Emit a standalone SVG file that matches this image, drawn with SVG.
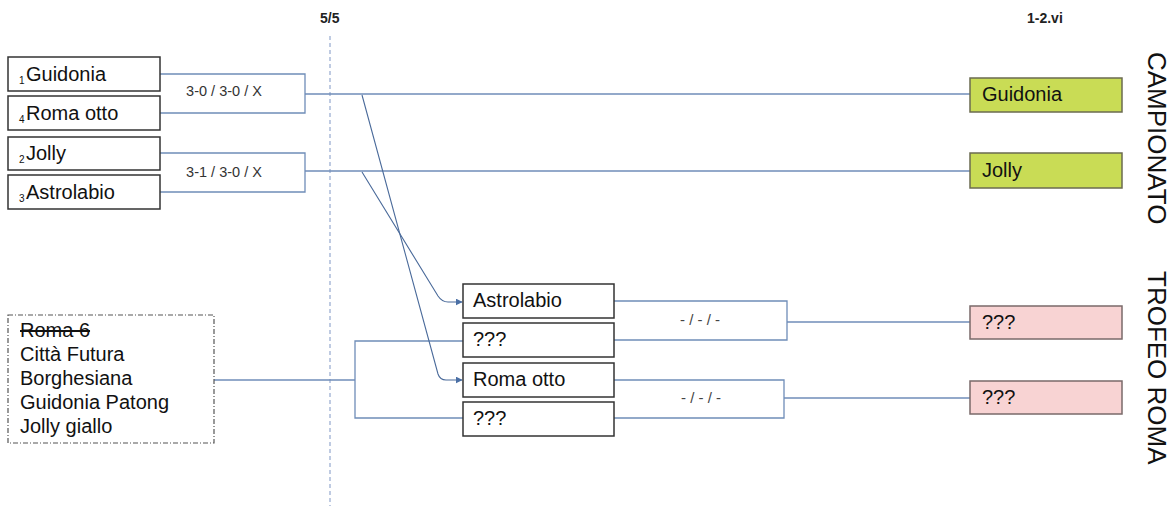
<svg xmlns="http://www.w3.org/2000/svg" width="1172" height="506" viewBox="0 0 1172 506">
<defs>
<marker id="arr" viewBox="0 0 10 10" refX="9" refY="5" markerWidth="7" markerHeight="7" orient="auto" markerUnits="userSpaceOnUse">
<path d="M0,0 L10,5 L0,10 z" fill="#4a6fa5"/>
</marker>
<style>
.box{fill:#fff;stroke:#333;stroke-width:1.5}
.green{fill:#c9dc55;stroke:#6b6b50;stroke-width:1.5}
.pink{fill:#f8d3d3;stroke:#7a6a6a;stroke-width:1.5}
.t{font-family:"Liberation Sans",Arial,sans-serif;font-size:20px;fill:#111}
.sub{font-family:"Liberation Sans",Arial,sans-serif;font-size:10px;fill:#111}
.score{font-family:"Liberation Sans",Arial,sans-serif;font-size:14.5px;fill:#333}
.dash{font-family:"Liberation Sans",Arial,sans-serif;font-size:15px;fill:#444}
.hdr{font-family:"Liberation Sans",Arial,sans-serif;font-size:14px;font-weight:bold;fill:#222}
.side{font-family:"Liberation Sans",Arial,sans-serif;font-size:26px;fill:#111}
.ln{fill:none;stroke:#6f8db8;stroke-width:1.3}
.ar{fill:none;stroke:#4a6a9a;stroke-width:1.1}
</style>
</defs>
<rect width="1172" height="506" fill="#fff"/>
<text class="hdr" x="320" y="23">5/5</text>
<text class="hdr" x="1027" y="23">1-2.vi</text>
<line x1="330" y1="36" x2="330" y2="506" stroke="#9db0d3" stroke-width="1.3" stroke-dasharray="4,3"/>
<g id="connectors">
<path class="ln" d="M160,74 H305 V113 H160"/>
<path class="ln" d="M305,94 H970"/>
<path class="ln" d="M160,153 H305 V192 H160"/>
<path class="ln" d="M305,171 H970"/>
<path class="ln" d="M214,380 H355"/>
<path class="ln" d="M463,341 H355 V418 H463"/>
<path class="ln" d="M614,301 H787 V340 H614"/>
<path class="ln" d="M787,322 H970"/>
<path class="ln" d="M614,380 H784 V418 H614"/>
<path class="ln" d="M784,398 H970"/>
<path class="ar" d="M362,95 L438,374 Q440,380 446,380 L462,380" marker-end="url(#arr)"/>
<path class="ar" d="M362,172 L438,296 Q442,302 448,302 L462,302" marker-end="url(#arr)"/>
<text class="score" x="224" y="96" text-anchor="middle">3-0 / 3-0 / X</text>
<text class="score" x="224" y="177" text-anchor="middle">3-1 / 3-0 / X</text>
<text class="dash" x="700" y="325" text-anchor="middle">- / - / -</text>
<text class="dash" x="701" y="403" text-anchor="middle">- / - / -</text>
</g>
<g id="n-guidonia">
<rect class="box" x="8" y="57" width="152" height="34"/>
<text class="sub" x="19" y="84">1</text><text class="t" x="26" y="81">Guidonia</text>
</g>
<g id="n-romaotto">
<rect class="box" x="8" y="96" width="152" height="34"/>
<text class="sub" x="19" y="123">4</text><text class="t" x="26" y="120">Roma otto</text>
</g>
<g id="n-jolly">
<rect class="box" x="8" y="137" width="152" height="33"/>
<text class="sub" x="19" y="163">2</text><text class="t" x="26" y="160">Jolly</text>
</g>
<g id="n-astrolabio">
<rect class="box" x="8" y="175" width="152" height="34"/>
<text class="sub" x="19" y="202">3</text><text class="t" x="26" y="199">Astrolabio</text>
</g>
<g id="n-pool">
<rect x="8" y="315" width="206" height="128" fill="#fff" stroke="#555" stroke-width="1.2" stroke-dasharray="5,2,1,2"/>
<text class="t" x="20" y="337" text-decoration="line-through">Roma 6</text>
<text class="t" x="20" y="361">Città Futura</text>
<text class="t" x="20" y="385">Borghesiana</text>
<text class="t" x="20" y="409">Guidonia Patong</text>
<text class="t" x="20" y="433">Jolly giallo</text>
</g>
<g id="n-sf-astrolabio">
<rect class="box" x="463" y="284" width="151" height="34"/>
<text class="t" x="473" y="307">Astrolabio</text>
</g>
<g id="n-sf-q1">
<rect class="box" x="463" y="323" width="151" height="34"/>
<text class="t" x="473" y="346">???</text>
</g>
<g id="n-sf-romaotto">
<rect class="box" x="463" y="363" width="151" height="34"/>
<text class="t" x="473" y="386">Roma otto</text>
</g>
<g id="n-sf-q2">
<rect class="box" x="463" y="402" width="151" height="34"/>
<text class="t" x="473" y="425">???</text>
</g>
<g id="n-f-guidonia">
<rect class="green" x="970" y="78" width="152" height="34"/>
<text class="t" x="982" y="101">Guidonia</text>
</g>
<g id="n-f-jolly">
<rect class="green" x="970" y="153" width="152" height="35"/>
<text class="t" x="982" y="177">Jolly</text>
</g>
<g id="n-f-q1">
<rect class="pink" x="970" y="306" width="152" height="33"/>
<text class="t" x="982" y="329">???</text>
</g>
<g id="n-f-q2">
<rect class="pink" x="970" y="381" width="152" height="33"/>
<text class="t" x="982" y="404">???</text>
</g>
<text class="side" transform="translate(1148,52) rotate(90)">CAMPIONATO</text>
<text class="side" transform="translate(1148,271) rotate(90)">TROFEO ROMA</text>
</svg>
